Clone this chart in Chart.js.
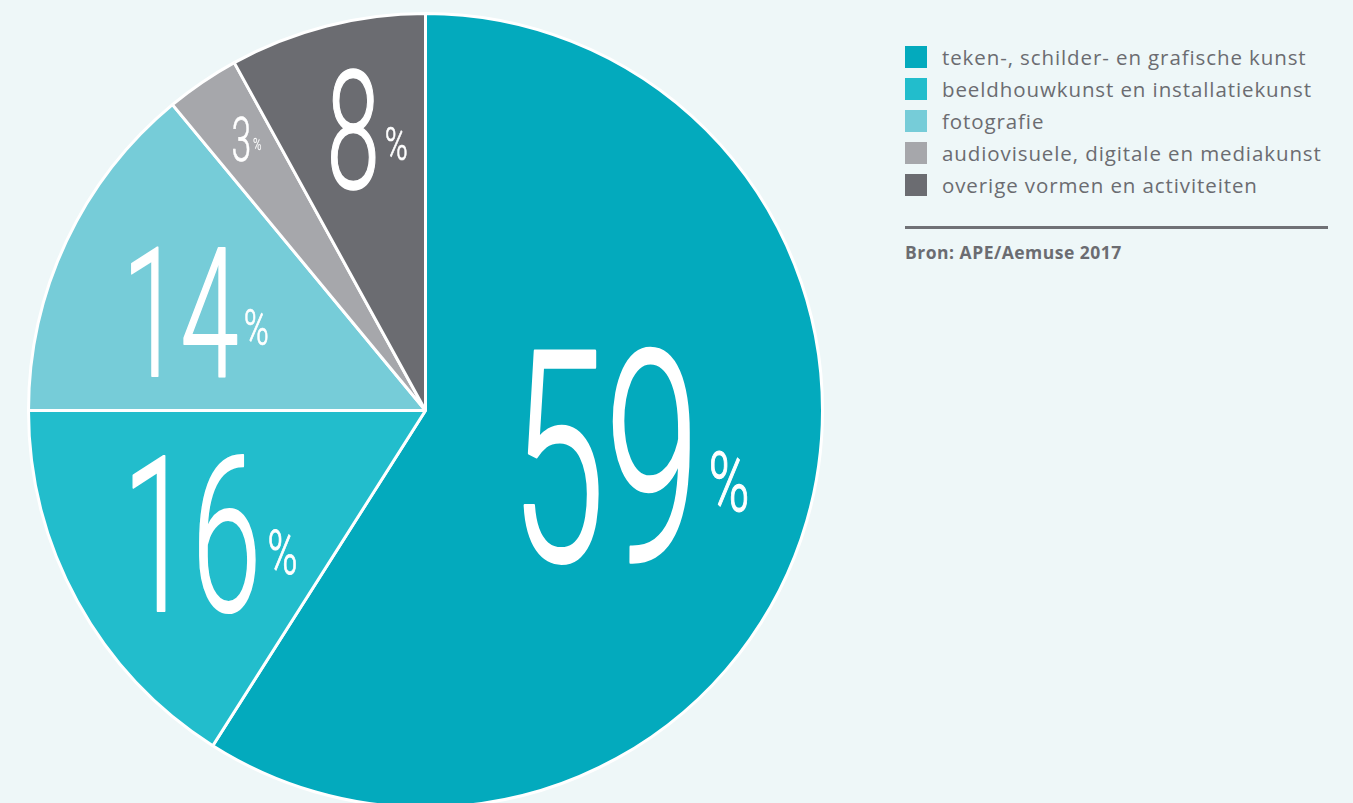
<!DOCTYPE html>
<html>
<head>
<meta charset="utf-8">
<script src="https://cdn.jsdelivr.net/npm/chart.js@4.4.1/dist/chart.umd.min.js"></script>
<style>
  html, body { margin: 0; padding: 0; background: #eef7f8; overflow: hidden; width: 1353px; height: 803px; }
  #wrap { position: absolute; left: 0; top: 0; width: 860px; height: 820px; }
  #legend { position: absolute; left: 905px; top: 41px; width: 440px; font-family: "Open Sans", sans-serif; color: #6b6c71; }
  .item { height: 32px; display: flex; align-items: center; font-size: 20.5px; letter-spacing: 0.9px; white-space: nowrap; }
  .sw { width: 22px; height: 22px; margin-right: 15px; flex: none; }
  #rule { position: absolute; left: 905px; top: 226px; width: 423px; height: 3px; background: #707176; }
  #source { position: absolute; left: 905px; top: 240px; font-family: "Open Sans", sans-serif; font-weight: 700; font-size: 17.5px; letter-spacing: 0.5px; color: #6b6c71; }
</style>
</head>
<body>
<div id="wrap"><canvas id="pie"></canvas></div>
<div id="legend"></div>
<div id="rule"></div>
<div id="source">Bron: APE/Aemuse 2017</div>
<script>
// data
const categories = [
  'teken-, schilder- en grafische kunst',
  'beeldhouwkunst en installatiekunst',
  'fotografie',
  'audiovisuele, digitale en mediakunst',
  'overige vormen en activiteiten'
];
const shares = [59, 16, 14, 3, 8];
const colors = ['#03aabd', '#22bdcc', '#76ccd8', '#a6a7ab', '#6b6c71'];

// where the big numbers sit, in units of the radius from the pie centre
const labelSpots = [
  { dx: 0.515, dy: 0.107, h: 0.542 },
  { dx: -0.543, dy: 0.305, h: 0.398 },
  { dx: -0.579, dy: -0.254, h: 0.332 },
  { dx: -0.451, dy: -0.686, h: 0.113 },
  { dx: -0.147, dy: -0.714, h: 0.305 }
];

// legend
const legend = document.getElementById('legend');
categories.forEach(function(name, i) {
  const row = document.createElement('div');
  row.className = 'item';
  row.innerHTML = '<span class="sw" style="background:' + colors[i] + '"></span><span>' + name + '</span>';
  legend.appendChild(row);
});

const bigNumbers = {
  id: 'bigNumbers',
  afterDatasetsDraw(chart) {
    const ctx = chart.ctx;
    const arcs = chart.getDatasetMeta(0).data;
    const face = 'Roboto, "DejaVu Sans", sans-serif';
    const weight = '300 ';

    ctx.save();
    ctx.font = weight + '100px ' + face;
    const asc = ctx.measureText('0').actualBoundingBoxAscent / 100;
    ctx.restore();

    arcs.forEach(function(arc, i) {
      const r = arc.outerRadius;
      const spot = labelSpots[i];
      const cx = arc.x + spot.dx * r;
      const cy = arc.y + spot.dy * r;
      const h = spot.h * r;
      const ph = h * 0.28;
      const txt = String(shares[i]);

      ctx.save();
      ctx.fillStyle = '#ffffff';
      ctx.strokeStyle = '#ffffff';
      ctx.lineJoin = 'round';
      ctx.textBaseline = 'alphabetic';
      ctx.textAlign = 'left';

      ctx.font = weight + (h / asc) + 'px ' + face;
      const nw = ctx.measureText(txt).width;
      const sx = (txt.length * 0.44 * h) / nw;
      const digitsW = nw * sx;

      ctx.font = weight + (ph / asc) + 'px ' + face;
      const pw = ctx.measureText('%').width;
      const psx = (0.68 * ph) / pw;
      const pctW = pw * psx;

      const gap = 0.04 * h;
      const left = cx - (digitsW + gap + pctW) / 2;
      const top = cy - h / 2;

      ctx.font = weight + (h / asc) + 'px ' + face;
      ctx.save();
      ctx.translate(left, top + h);
      ctx.scale(sx, 1);
      ctx.fillText(txt, 0, 0);
      ctx.lineWidth = h * 0.014;
      ctx.strokeText(txt, 0, 0);
      ctx.restore();

      ctx.font = weight + (ph / asc) + 'px ' + face;
      ctx.save();
      ctx.translate(left + digitsW + gap, top + 0.63 * h + ph / 2);
      ctx.scale(psx, 1);
      ctx.fillText('%', 0, 0);
      ctx.lineWidth = ph * 0.02;
      ctx.strokeText('%', 0, 0);
      ctx.restore();

      ctx.restore();
    });
  }
};

const ctx = document.getElementById('pie').getContext('2d');
new Chart(ctx, {
  type: 'pie',
  data: {
    labels: categories,
    datasets: [{
      data: shares,
      backgroundColor: colors,
      borderColor: '#ffffff',
      borderWidth: 3,
      hoverOffset: 0
    }]
  },
  options: {
    responsive: true,
    maintainAspectRatio: false,
    animation: false,
    layout: {
      padding: { left: 27, top: 12, right: 36, bottom: 11 }
    },
    plugins: {
      legend: { display: false },
      tooltip: { enabled: false }
    }
  },
  plugins: [bigNumbers]
});
</script>
</body>
</html>
